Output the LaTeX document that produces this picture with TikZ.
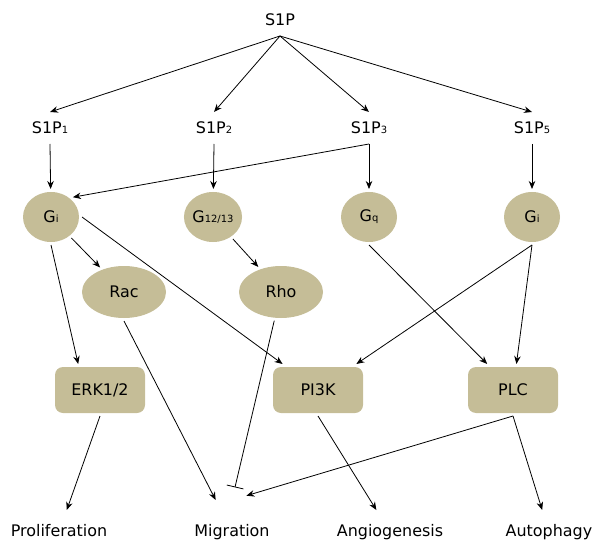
\documentclass[tikz,border=0pt]{standalone}
\usepackage{fontspec}
\setmainfont{DejaVu Sans}
\usepackage{xcolor}
\usepackage{tikz}
\usetikzlibrary{shapes.geometric, arrows.meta}

\definecolor{sigtan}{RGB}{197,189,151}
\newcommand{\smidx}[1]{{\fontsize{10}{10}\selectfont #1}}

\begin{document}
\begin{tikzpicture}[x=1bp, y=-1bp, line width=0.8bp,
    every node/.style={font=\fontsize{16}{19}\selectfont},
    lbl/.style={inner sep=0pt, text height=12bp, text depth=0pt, outer xsep=2bp, outer ysep=10bp},
    gprot/.style={ellipse, fill=sigtan, minimum width=56bp, minimum height=50bp, inner sep=0pt, outer sep=3bp},
    effector/.style={ellipse, fill=sigtan, minimum width=84bp, minimum height=52bp, inner sep=0pt, outer sep=3bp},
    kinase/.style={rectangle, rounded corners=8bp, fill=sigtan, minimum width=90bp, minimum height=46bp, outer sep=3bp},
    outcome/.style={inner sep=0pt, text height=12bp, text depth=4bp, outer ysep=14bp},
    act/.style={-{Stealth[length=8bp, width=6.5bp]}},
    inh/.style={-{Bar[width=17bp]}}]
    \useasboundingbox (0,0) rectangle (595,542);

    % Receptors
    \node[lbl] (s1p) at (280,20) {S1P};
    \node[lbl] (s1p1) at (50,128) {S1P\smidx{1}};
    \node[lbl] (s1p2) at (214,128) {S1P\smidx{2}};
    \node[lbl] (s1p3) at (369,128) {S1P\smidx{3}};
    \node[lbl] (s1p5) at (532,128) {S1P\smidx{5}};

    % G proteins
    \node[gprot] (gi1) at (51,217) {G\smidx{i}};
    \node[gprot] (g1213) at (213,217) {G\smidx{12/13}};
    \node[gprot] (gq) at (369,217) {G\smidx{q}};
    \node[gprot] (gi5) at (532,217) {G\smidx{i}};

    \node[effector] (rac) at (124,292) {Rac};
    \node[effector] (rho) at (281,292) {Rho};

    % Kinases
    \node[kinase] (erk) at (100,390) {ERK1/2};
    \node[kinase] (pi3k) at (318,390) {PI3K};
    \node[kinase] (plc) at (513,390) {PLC};

    % Outcomes
    \node[outcome] (prolif) at (59,532) {Proliferation};
    \node[outcome, outer ysep=24bp] (migr) at (232,532) {Migration};
    \node[outcome] (angio) at (390,532) {Angiogenesis};
    \node[outcome] (autoph) at (549,532) {Autophagy};

    % Connections
    \draw[act] (s1p.south) -- (s1p1.north);
    \draw[act] (s1p.south) -- (s1p2.north);
    \draw[act] (s1p.south) -- (s1p3.north);
    \draw[act] (s1p.south) -- (s1p5.north);
    \draw[act] (s1p1.south) -- (gi1);
    \draw[act] (s1p2.south) -- (g1213);
    \draw[act] (s1p3.south) -- (gq);
    \draw[act] (s1p3.south) -- (gi1.north east);
    \draw[act] (s1p5.south) -- (gi5);
    \draw[act] (gi1) -- (rac);
    \draw[act] (gi1.south) -- (erk.130);
    \draw[act] (gi1.east) -- (pi3k);
    \draw[act] (g1213) -- (rho);
    \draw[act] (gq.south) -- (plc);
    \draw[act] (gi5.south) -- (pi3k);
    \draw[act] (gi5.south) -- (plc);
    \draw[act] (rac.south) -- (migr);
    \draw[inh, shorten >=13bp] (rho) -- (migr.north);
    \draw[act] (erk.south) -- (prolif);
    \draw[act] (pi3k.south) -- (angio);
    \draw[act, shorten >=15bp] (plc.south) -- (migr.north);
    \draw[act] (plc.south) -- (autoph);

\end{tikzpicture}
\end{document}
